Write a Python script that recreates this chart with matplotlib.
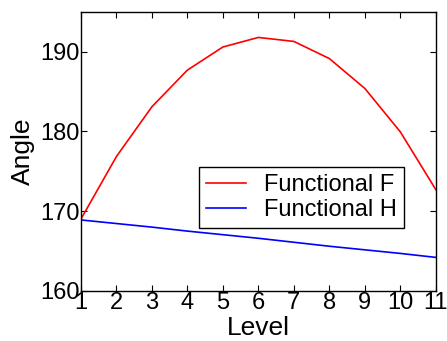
import matplotlib
matplotlib.use("Agg")
import matplotlib.pyplot as plt

levels = [1, 2, 3, 4, 5, 6, 7, 8, 9, 10, 11]
functional_f = [169.0, 176.85, 183.1, 187.7, 190.6, 191.8, 191.3, 189.15, 185.4, 179.95, 172.7]
functional_h = [168.9, 168.45, 168.0, 167.5, 167.05, 166.6, 166.1, 165.6, 165.15, 164.7, 164.2]

plt.rcParams["font.family"] = ["Liberation Sans", "DejaVu Sans"]

fig = plt.figure(figsize=(4.47, 3.41), dpi=100)
ax = fig.add_axes([0.181, 0.147, 0.794, 0.818])
ax.plot(levels, functional_f, color="red", lw=1.2, label="Functional F")
ax.plot(levels, functional_h, color="blue", lw=1.2, label="Functional H")

ax.set_xlim(1, 11)
ax.set_ylim(160, 195)
ax.set_xticks(levels)
ax.set_yticks([160, 170, 180, 190])
ax.tick_params(direction="in", top=True, right=True, labelsize=17, length=4, pad=1)
for s in ax.spines.values():
    s.set_linewidth(1.0)
ax.set_xlabel("Level", fontsize=19, labelpad=1)
ax.set_ylabel("Angle", fontsize=19, labelpad=4)

# legend sits inside the axes, lower right of centre
leg = ax.legend(loc="upper left", bbox_to_anchor=(0.332, 0.444), borderaxespad=0,
                fontsize=17, fancybox=False, framealpha=1, edgecolor="black",
                handlelength=1.7, handletextpad=0.75, labelspacing=0.12, borderpad=0.3)
leg.get_frame().set_linewidth(1.0)

fig.savefig("out.png", dpi=100)
